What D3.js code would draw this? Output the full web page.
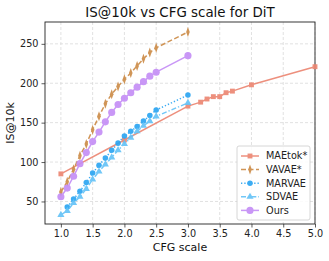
<!DOCTYPE html>
<html>
<head>
<meta charset="utf-8">
<script src="https://cdn.jsdelivr.net/npm/d3@7"></script>
<style>
  body { margin: 0; background: #fff; }
  text { font-family: "DejaVu Sans", sans-serif; }
</style>
</head>
<body>
<div id="chart"></div>
<script>
// IS@10k vs CFG scale for DiT

// data
var maetokX = [1.0, 2.0, 3.0, 3.2, 3.3, 3.4, 3.5, 3.6, 3.7, 4.0, 5.0];
var maetokY = [85, 128, 171, 176, 180, 183, 183, 188, 190, 198, 221];

var cfgX = [1.0, 1.1, 1.2, 1.3, 1.4, 1.5, 1.6, 1.7, 1.8, 1.9, 2.0, 2.1, 2.2, 2.3, 2.4, 2.5, 3.0];
var vavaeY = [62, 75, 91, 108, 123, 141, 158, 174, 186, 196, 205, 213, 222, 231, 239, 245, 265];
var oursY = [56, 67, 82, 98, 112, 126, 138, 151, 163, 173, 181, 188, 195, 202, 209, 214, 235];
var sdvaeY = [33, 38, 48, 56, 66, 78, 88, 97, 106, 115, 123, 131, 139, 146, 152, 158, 175];

var marvaeX = [1.1, 1.2, 1.3, 1.4, 1.5, 1.6, 1.7, 1.8, 1.9, 2.0, 2.1, 2.2, 2.3, 2.4, 2.5, 3.0];
var marvaeY = [43, 53, 63, 74, 86, 96, 105, 115, 124, 133, 139, 145, 152, 159, 166, 185];

var xTicks = [1.0, 1.5, 2.0, 2.5, 3.0, 3.5, 4.0, 4.5, 5.0];
var yTicks = [50, 100, 150, 200, 250];

var svgWidth = 329, svgHeight = 261;
var margin = {top: 22, right: 14, bottom: 37, left: 45};
var width = svgWidth - margin.left - margin.right;
var height = svgHeight - margin.top - margin.bottom;

var svg = d3.select("#chart").append("svg")
    .attr("width", svgWidth)
    .attr("height", svgHeight);

var g = svg.append("g")
    .attr("transform", "translate(" + margin.left + "," + margin.top + ")");

var xScale = d3.scaleLinear().domain([0.75, 5.0]).range([0, width]);
var yScale = d3.scaleLinear().domain([21.4, 277.7]).range([height, 0]);

// grid
g.append("g").selectAll("line").data(xTicks).enter().append("line")
    .attr("x1", d => xScale(d)).attr("x2", d => xScale(d))
    .attr("y1", 0).attr("y2", height)
    .attr("stroke", "#d9d9d9").attr("stroke-width", 0.8).attr("stroke-dasharray", "3,2");
g.append("g").selectAll("line").data(yTicks).enter().append("line")
    .attr("x1", 0).attr("x2", width)
    .attr("y1", d => yScale(d)).attr("y2", d => yScale(d))
    .attr("stroke", "#d9d9d9").attr("stroke-width", 0.8).attr("stroke-dasharray", "3,2");

// axes
var xAxis = g.append("g")
    .attr("transform", "translate(0," + height + ")")
    .call(d3.axisBottom(xScale).tickValues(xTicks).tickFormat(d3.format(".1f")).tickSize(3.5).tickPadding(3));
var yAxis = g.append("g")
    .call(d3.axisLeft(yScale).tickValues(yTicks).tickSize(3.5).tickPadding(3));
[xAxis, yAxis].forEach(function(a) {
    a.select(".domain").remove();
    a.selectAll("text").attr("font-size", "9.7px").attr("fill", "#222").style("font-family", "DejaVu Sans, sans-serif");
    a.selectAll("line").attr("stroke", "#333").attr("stroke-width", 0.8);
});

g.append("rect")
    .attr("width", width).attr("height", height)
    .attr("fill", "none").attr("stroke", "#222").attr("stroke-width", 0.9);

// series
var series = [
    {name: "MAEtok*", xs: maetokX, ys: maetokY, color: "#ec8470", dash: null, marker: "square"},
    {name: "VAVAE*", xs: cfgX, ys: vavaeY, color: "#cc8a45", dash: "5,2.5", marker: "diamond"},
    {name: "MARVAE", xs: marvaeX, ys: marvaeY, color: "#27a4f2", dash: "1.3,2", marker: "circle"},
    {name: "SDVAE", xs: cfgX, ys: sdvaeY, color: "#62c2f7", dash: "5,2,1.3,2", marker: "triangle"},
    {name: "Ours", xs: cfgX, ys: oursY, color: "#c48cf6", dash: null, marker: "big"}
];

var line = d3.line().x(d => xScale(d[0])).y(d => yScale(d[1]));

function symbolFor(m) {
    if (m === "square") return d3.symbol().type(d3.symbolSquare).size(24);
    if (m === "diamond") return d3.symbol().type(d3.symbolDiamond).size(20);
    if (m === "circle") return d3.symbol().type(d3.symbolCircle).size(24);
    if (m === "triangle") return d3.symbol().type(d3.symbolTriangle).size(22);
    return d3.symbol().type(d3.symbolCircle).size(40);
}

series.forEach(function(s) {
    var pts = s.xs.map((x, i) => [x, s.ys[i]]);
    var sg = g.append("g").attr("opacity", 0.9);
    sg.append("path")
        .attr("d", line(pts))
        .attr("fill", "none")
        .attr("stroke", s.color)
        .attr("stroke-width", 1.5)
        .attr("stroke-dasharray", s.dash);
    sg.selectAll("path.m").data(pts).enter().append("path")
        .attr("class", "m")
        .attr("transform", d => "translate(" + xScale(d[0]) + "," + yScale(d[1]) + ")" + (s.marker === "diamond" ? " scale(0.75,1.2)" : ""))
        .attr("d", symbolFor(s.marker)())
        .attr("fill", s.color);
});

// legend
var legend = g.append("g").attr("transform", "translate(" + (width - 78) + "," + (height - 78) + ")");
legend.append("rect")
    .attr("width", 73).attr("height", 74).attr("rx", 2)
    .attr("fill", "#fff").attr("fill-opacity", 0.85)
    .attr("stroke", "#ccc").attr("stroke-width", 0.8);
series.forEach(function(s, i) {
    var yy = 10 + i * 13.6;
    var lg = legend.append("g").attr("opacity", 0.9);
    lg.append("line")
        .attr("x1", 4).attr("x2", 22).attr("y1", yy).attr("y2", yy)
        .attr("stroke", s.color).attr("stroke-width", 1.5)
        .attr("stroke-dasharray", s.dash);
    lg.append("path")
        .attr("transform", "translate(13," + yy + ")" + (s.marker === "diamond" ? " scale(0.75,1.2)" : ""))
        .attr("d", symbolFor(s.marker)())
        .attr("fill", s.color);
    legend.append("text")
        .attr("x", 29).attr("y", yy + 3.4)
        .attr("font-size", "9.7px").attr("fill", "#222")
        .text(s.name);
});

// labels
svg.append("text")
    .attr("x", margin.left + width / 2).attr("y", 17)
    .attr("text-anchor", "middle").attr("font-size", "13.4px").attr("fill", "#111")
    .text("IS@10k vs CFG scale for DiT");
svg.append("text")
    .attr("x", margin.left + width / 2).attr("y", 251)
    .attr("text-anchor", "middle").attr("font-size", "11px").attr("fill", "#111")
    .text("CFG scale");
svg.append("text")
    .attr("transform", "translate(14," + (margin.top + height / 2) + ") rotate(-90)")
    .attr("text-anchor", "middle").attr("font-size", "11px").attr("fill", "#111")
    .text("IS@10k");
</script>
</body>
</html>
